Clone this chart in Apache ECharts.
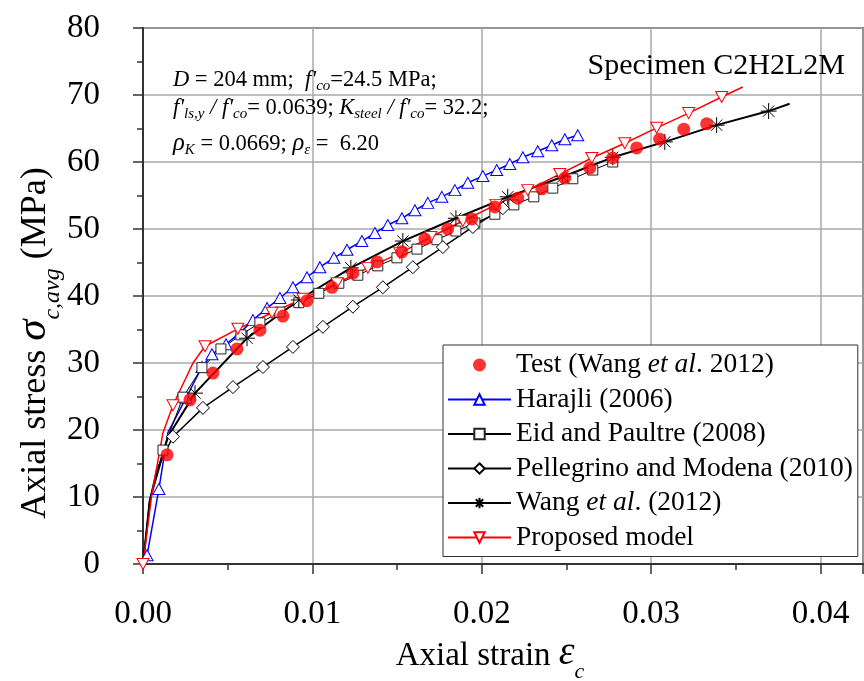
<!DOCTYPE html>
<html><head><meta charset="utf-8">
<script src="https://cdn.jsdelivr.net/npm/echarts@6/dist/echarts.min.js"></script>
<style>html,body{margin:0;padding:0;background:#fff}#c{width:864px;height:681px}</style>
</head><body><div id="c"></div>
<script>
const FONT = '"Liberation Serif", "Times New Roman", serif';

// ---- data (strain, stress in MPa) ----
const testStrain = [0.00142,0.00277,0.00413,0.00555,0.00690,0.00826,0.00968,0.01115,0.01239,0.01381,0.01528,0.01664,0.01799,0.01941,0.02077,0.02212,0.02354,0.02490,0.02637,0.02773,0.02914,0.03050,0.03192,0.03327];
const testStress = [16.3,24.5,28.5,32.1,34.9,37.0,39.3,41.3,43.4,45.1,46.6,48.5,50.0,51.5,53.3,54.6,56.0,57.6,59.1,60.6,62.1,63.4,64.9,65.7];

const harajliStrain = [0,0.00024,0.00094,0.00147,0.00254,0.00348,0.00407,0.00490,0.00572,0.00649,0.00732,0.00808,0.00885,0.00968,0.01044,0.01127,0.01204,0.01292,0.01369,0.01445,0.01528,0.01605,0.01681,0.01764,0.01841,0.01917,0.02006,0.02088,0.02165,0.02242,0.02330,0.02413,0.02490,0.02566];
const harajliStress = [0,1.3,11.2,19.6,24.8,29.4,31.3,32.8,34.5,36.4,38.2,39.7,41.3,42.8,44.3,45.7,46.9,48.2,49.4,50.6,51.6,52.8,53.9,54.8,55.8,56.9,57.9,58.8,59.7,60.7,61.6,62.5,63.4,64.0];
const harajliPlain = [0,3];

const eidStrain = [0,0.0004,0.00118,0.00236,0.00348,0.00460,0.00578,0.00690,0.00808,0.00920,0.01038,0.01156,0.01268,0.01386,0.01499,0.01617,0.01735,0.01847,0.01959,0.02077,0.02189,0.02307,0.02419,0.02537,0.02655,0.02773];
const eidStress = [0,9.5,17.0,24.9,29.3,32.1,34.2,36.0,37.6,39.0,40.4,41.9,43.1,44.5,45.7,47.0,48.4,49.7,50.9,52.2,53.6,54.8,56.1,57.5,58.8,60.0];
const eidPlain = [0,1];

const pelStrain = [0,0.0004,0.0008,0.00177,0.00354,0.00531,0.00708,0.00885,0.01062,0.01239,0.01416,0.01593,0.01770,0.01947,0.02124];
const pelStress = [0,9.5,14.0,19.0,23.3,26.4,29.4,32.4,35.4,38.4,41.3,44.3,47.3,50.3,53.1];
const pelPlain = [0,1,2];

const wangStrain = [0,0.0004,0.00147,0.00307,0.00614,0.00920,0.01227,0.01534,0.01847,0.02153,0.02478,0.02773,0.03080,0.03386,0.03693,0.03817];
const wangStress = [0,9.5,19.0,25.5,33.7,39.4,44.2,48.2,51.6,54.8,57.8,60.7,63.0,65.5,67.6,68.7];
const wangPlain = [0,1,2,15];

const propStrain = [0,0.0005,0.00118,0.00177,0.00295,0.00366,0.00560,0.00761,0.00944,0.01145,0.01327,0.01516,0.01699,0.01888,0.02083,0.02271,0.02460,0.02649,0.02844,0.03032,0.03221,0.03416,0.03540];
const propStress = [0,10.0,19.6,23.7,30.0,32.5,35.1,37.5,39.6,41.9,44.2,46.4,48.8,51.2,53.6,55.8,58.2,60.6,62.8,65.1,67.3,69.7,71.2];
const propPlain = [1,2,4,22];

const xTickLabels = ['0.00','0.01','0.02','0.03','0.04'];
const seriesNames = ['Test (Wang et al. 2012)','Harajli (2006)','Eid and Paultre (2008)','Pellegrino and Modena (2010)','Wang et al. (2012)','Proposed model'];

function build(xs, ys, plain) {
  return xs.map((x, i) => {
    const item = { value: [x, ys[i]] };
    if (plain && plain.indexOf(i) >= 0) item.symbol = 'none';
    return item;
  });
}

// ---- text layout helper (pieces placed on a common baseline) ----
const ctx2d = document.createElement('canvas').getContext('2d');
const K_MID = 0.305;
function fontOf(p) { return (p.it ? 'italic ' : '') + p.sz + 'px ' + FONT; }
function layout(pieces, x0, base) {
  let x = x0; const els = [];
  pieces.forEach(p => {
    const f = fontOf(p);
    ctx2d.font = f;
    const w = ctx2d.measureText(p.t).width;
    els.push({ type: 'text', x: x, y: base + (p.dy || 0) - K_MID * p.sz, silent: true, z: 100,
      style: { text: p.t, font: f, fill: '#000', align: 'left', verticalAlign: 'middle' } });
    x += w;
  });
  return { els: els, width: x - x0 };
}
const A = 22.5, S = 15, SD = 4;
const row1 = [
  { t: 'D', sz: A, it: 1 }, { t: ' = 204 mm;  ', sz: A }, { t: "f'", sz: A, it: 1 }, { t: 'co', sz: S, it: 1, dy: SD },
  { t: '=24.5 MPa;', sz: A }
];
const row2 = [
  { t: "f'", sz: A, it: 1 }, { t: 'ls,y', sz: S, it: 1, dy: SD }, { t: " / f'", sz: A, it: 1 }, { t: 'co', sz: S, it: 1, dy: SD },
  { t: '= 0.0639; ', sz: A }, { t: 'K', sz: A, it: 1 }, { t: 'steel', sz: S, it: 1, dy: SD }, { t: " / f'", sz: A, it: 1 },
  { t: 'co', sz: S, it: 1, dy: SD }, { t: '= 32.2;', sz: A }
];
const row3 = [
  { t: 'ρ', sz: A + 2, it: 1 }, { t: 'K', sz: S, it: 1, dy: SD }, { t: ' = 0.0669; ', sz: A }, { t: 'ρ', sz: A + 2, it: 1 },
  { t: 'ε', sz: S, it: 1, dy: SD }, { t: ' =  6.20', sz: A }
];
const xName = [
  { t: 'Axial strain ', sz: 33 }, { t: 'ε', sz: 40, it: 1 }, { t: 'c', sz: 22, it: 1, dy: 13 }
];
const yName = [
  { t: 'Axial stress ', sz: 36 }, { t: 'σ', sz: 43, it: 1 }, { t: 'c,avg', sz: 24, it: 1, dy: 13 }, { t: ' (MPa)', sz: 36 }
];
const spec = [{ t: 'Specimen C2H2L2M', sz: 30 }];

const graphics = [];
graphics.push(...layout(row1, 173, 87).els);
graphics.push(...layout(row2, 173, 115).els);
graphics.push(...layout(row3, 173, 151).els);
const xl = layout(xName, 0, 0);
graphics.push(...layout(xName, 490 - xl.width / 2, 666).els);
const sl = layout(spec, 0, 0);
graphics.push(...layout(spec, 845 - sl.width, 75).els);
const yl = layout(yName, 0, 0);
graphics.push({ type: 'group', x: 47, y: 343 + yl.width / 2, rotation: Math.PI / 2, children: yl.els });

const STAR = 'path://M0,-10L0,10M-10,0L10,0M-7.07,-7.07L7.07,7.07M-7.07,7.07L7.07,-7.07';

const chart = echarts.init(document.getElementById('c'), null, { renderer: 'canvas' });

const legendNameMap = {
  'Test (Wang et al. 2012)': '{n|Test (Wang }{i|et al}{n|. 2012)}',
  'Wang et al. (2012)': '{n|Wang }{i|et al}{n|. (2012)}'
};

const option = {
  animation: false,
  backgroundColor: '#fff',
  grid: { left: 143, right: 1, top: 28, bottom: 117, show: true, borderColor: '#222', borderWidth: 1.5, backgroundColor: 'transparent' },
  xAxis: {
    type: 'value', min: 0, max: 0.0425, interval: 0.01,
    axisLine: { show: true, lineStyle: { color: '#333', width: 2 } },
    axisTick: { show: true, inside: false, length: 10, lineStyle: { color: '#333', width: 1.5 } },
    minorTick: { show: true, splitNumber: 2, length: 6, lineStyle: { color: '#333', width: 1.5 } },
    splitLine: { show: true, lineStyle: { color: '#a8a8a8', width: 1.5 } },
    axisLabel: { margin: 34, fontFamily: FONT, fontSize: 33, color: '#000', showMaxLabel: false,
      formatter: (v) => { const k = Math.round(v / 0.01); return xTickLabels[k] !== undefined && Math.abs(v - k * 0.01) < 1e-9 ? xTickLabels[k] : ''; } }
  },
  yAxis: {
    type: 'value', min: 0, max: 80, interval: 10,
    axisLine: { show: true, lineStyle: { color: '#333', width: 2 } },
    axisTick: { show: true, inside: false, length: 10, lineStyle: { color: '#333', width: 1.5 } },
    minorTick: { show: true, splitNumber: 2, length: 6, lineStyle: { color: '#333', width: 1.5 } },
    splitLine: { show: true, lineStyle: { color: '#a8a8a8', width: 1.5 } },
    axisLabel: { margin: 43, fontFamily: FONT, fontSize: 33, color: '#000' }
  },
  legend: {
    orient: 'vertical', left: 443, top: 345,
    backgroundColor: '#fff', borderColor: '#333', borderWidth: 1,
    padding: [6, 5, 5, 4],
    itemWidth: 63, itemHeight: 13, itemGap: 6.5,
    data: seriesNames,
    textStyle: {
      fontFamily: FONT, fontSize: 27.5, color: '#000',
      rich: {
        n: { fontFamily: FONT, fontSize: 27.5, color: '#000' },
        i: { fontFamily: FONT, fontSize: 27.5, color: '#000', fontStyle: 'italic' }
      }
    },
    formatter: (name) => legendNameMap[name] || ('{n|' + name + '}')
  },
  graphic: graphics,
  series: [
    { name: seriesNames[0], type: 'scatter', symbol: 'circle', symbolSize: 13,
      itemStyle: { color: '#ff0000' }, data: build(testStrain, testStress), z: 3 },
    { name: seriesNames[1], type: 'line', symbol: 'triangle', symbolSize: [12, 11], showAllSymbol: true,
      lineStyle: { color: '#0000ff', width: 1.5 }, itemStyle: { color: '#fff', borderColor: '#0000ff', borderWidth: 1 },
      data: build(harajliStrain, harajliStress, harajliPlain), z: 2 },
    { name: seriesNames[2], type: 'line', symbol: 'rect', symbolSize: 10, showAllSymbol: true,
      lineStyle: { color: '#000', width: 1 }, itemStyle: { color: '#fff', borderColor: '#222', borderWidth: 1 },
      data: build(eidStrain, eidStress, eidPlain), z: 2 },
    { name: seriesNames[3], type: 'line', symbol: 'diamond', symbolSize: 13, showAllSymbol: true,
      lineStyle: { color: '#000', width: 1.5 }, itemStyle: { color: '#fff', borderColor: '#000', borderWidth: 1 },
      data: build(pelStrain, pelStress, pelPlain), z: 2 },
    { name: seriesNames[4], type: 'line', symbol: STAR, symbolSize: 16, showAllSymbol: true,
      lineStyle: { color: '#000', width: 2 }, itemStyle: { color: '#000', borderColor: '#000', borderWidth: 1 },
      data: build(wangStrain, wangStress, wangPlain), z: 2 },
    { name: seriesNames[5], type: 'line', symbol: 'triangle', symbolRotate: 180, symbolSize: [12, 11], showAllSymbol: true,
      lineStyle: { color: '#ff0000', width: 1.5 }, itemStyle: { color: '#fff', borderColor: '#ff0000', borderWidth: 1 },
      data: build(propStrain, propStress, propPlain), z: 2 }
  ]
};
chart.setOption(option);
</script></body></html>
